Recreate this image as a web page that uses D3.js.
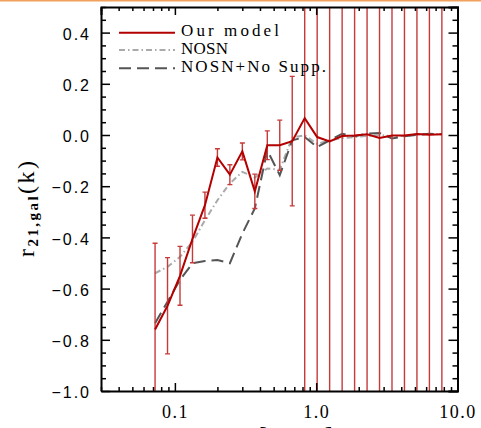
<!DOCTYPE html>
<html>
<head>
<meta charset="utf-8">
<script src="https://cdn.jsdelivr.net/npm/d3@7"></script>
<style>
  body { margin: 0; background: #fff; }
  svg { display: block; }
</style>
</head>
<body>
<svg id="chart"></svg>
<script>
// k values (h/Mpc) of the bins
const kValues = [0.0724, 0.0887, 0.1087, 0.1332, 0.1632, 0.2000, 0.2450, 0.3002,
  0.3679, 0.4508, 0.5523, 0.6768, 0.8293, 1.016, 1.245, 1.526, 1.870, 2.291,
  2.807, 3.439, 4.214, 5.164, 6.327, 7.752];
// Our model, with 1-sigma errors (the last ones are off the plot)
const ourModel = [-0.760, -0.667, -0.550, -0.406, -0.274, -0.088, -0.155, -0.064,
  -0.220, -0.040, -0.040, -0.024, 0.066, -0.008, -0.025, -0.004, -0.002, 0.003,
  -0.012, -0.002, -0.002, 0.004, 0.001, 0.003];
const ourErr = [0.337, 0.188, 0.115, 0.093, 0.051, 0.034, 0.039, 0.033, 0.067,
  0.056, 0.098, 0.253, 2.0, 2.0, 2.0, 2.0, 2.0, 2.0, 2.0, 2.0, 2.0, 2.0, 2.0, 2.0];
const nosn = [-0.540, -0.515, -0.476, -0.417, -0.333, -0.255, -0.189, -0.144,
  -0.166, -0.131, -0.135, -0.010, -0.001, -0.035, -0.021, -0.012, -0.008, -0.004,
  0.000, -0.005, -0.004, 0.002, 0.004, 0.003];
const nosnNoSupp = [-0.735, -0.651, -0.566, -0.501, -0.492, -0.488, -0.501, -0.385,
  -0.287, -0.060, -0.157, -0.021, -0.008, -0.047, -0.021, 0.005, -0.005, 0.005,
  0.008, -0.014, -0.005, 0.000, 0.005, 0.003];

const seriesNames = ["Our model", "NOSN", "NOSN+No Supp."];
const yTicks = [-1.0, -0.8, -0.6, -0.4, -0.2, 0.0, 0.2, 0.4];
const xTicks = [0.1, 1, 10];

const W = 481, H = 428;
const margin = {left: 101, top: 7, right: 23.5, bottom: 37};
const plotW = W - margin.left - margin.right;
const plotH = H - margin.top - margin.bottom;

const svg = d3.select("#chart").attr("width", W).attr("height", H);

// orange strip at the very top
svg.append("rect")
  .attr("x", 0).attr("y", 0).attr("width", W).attr("height", 1.5)
  .attr("fill", "#f2a05a");

const x = d3.scaleLog().domain([0.03, 10]).range([0, plotW]);
const y = d3.scaleLinear().domain([-1.0, 0.5]).range([plotH, 0]);

const g = svg.append("g").attr("transform", `translate(${margin.left},${margin.top})`);

g.append("clipPath").attr("id", "plotClip")
  .append("rect").attr("width", plotW).attr("height", plotH);

// minor tick positions
const yMinor = d3.range(-1.0, 0.5001, 0.05).filter(v => !yTicks.some(t => Math.abs(t - v) < 1e-6));
const xMinor = [];
[0.01, 0.1, 1].forEach(dec => {
  for (let m = 2; m <= 9; m++) {
    const v = dec * m;
    if (v >= 0.03 && v <= 10) xMinor.push(v);
  }
});

const fmt = d3.format(".1f");

// ---- data layers ----
const data = kValues.map((k, i) => ({k, our: ourModel[i], err: ourErr[i], nosn: nosn[i], supp: nosnNoSupp[i]}));
const layer = g.append("g").attr("clip-path", "url(#plotClip)");

const lineOf = key => d3.line().x(d => x(d.k)).y(d => y(d[key]));

layer.append("path").datum(data)
  .attr("d", lineOf("nosn"))
  .attr("fill", "none").attr("stroke", "#aaaaaa").attr("stroke-width", 2)
  .attr("stroke-dasharray", "6,3,1.5,3");

layer.append("path").datum(data)
  .attr("d", lineOf("supp"))
  .attr("fill", "none").attr("stroke", "#555555").attr("stroke-width", 2)
  .attr("stroke-dasharray", "12,6");

// error bars
const eb = layer.append("g").attr("stroke", "#c63a3a").attr("stroke-width", 1.4);
data.forEach(d => {
  const cx = x(d.k), y0 = y(d.our - d.err), y1 = y(d.our + d.err);
  eb.append("line").attr("x1", cx).attr("x2", cx).attr("y1", y0).attr("y2", y1);
  eb.append("line").attr("x1", cx - 2.5).attr("x2", cx + 2.5).attr("y1", y0).attr("y2", y0);
  eb.append("line").attr("x1", cx - 2.5).attr("x2", cx + 2.5).attr("y1", y1).attr("y2", y1);
});

layer.append("path").datum(data)
  .attr("d", lineOf("our"))
  .attr("fill", "none").attr("stroke", "#b30000").attr("stroke-width", 2);

// ---- axes ----
function styleAxis(sel) {
  sel.select(".domain").attr("stroke", "#000").attr("stroke-width", 2);
  sel.selectAll(".tick line").attr("stroke", "#000").attr("stroke-width", 1.5);
}

// left
g.append("g")
  .call(d3.axisLeft(y).tickValues(yTicks).tickSizeInner(-9).tickSizeOuter(0).tickPadding(10).tickFormat(fmt))
  .call(styleAxis)
  .call(a => a.selectAll("text")
    .attr("font-family", "Liberation Sans, Arial, sans-serif")
    .attr("font-size", 16).attr("fill", "#000").attr("letter-spacing", 2).attr("dy", "0.42em"));
g.append("g")
  .call(d3.axisLeft(y).tickValues(yMinor).tickSize(-5).tickFormat(""))
  .call(styleAxis).call(a => a.select(".domain").remove());

// right
g.append("g").attr("transform", `translate(${plotW},0)`)
  .call(d3.axisRight(y).tickValues(yTicks).tickSize(-9).tickFormat(""))
  .call(styleAxis);
g.append("g").attr("transform", `translate(${plotW},0)`)
  .call(d3.axisRight(y).tickValues(yMinor).tickSize(-5).tickFormat(""))
  .call(styleAxis).call(a => a.select(".domain").remove());

// bottom
g.append("g").attr("transform", `translate(0,${plotH})`)
  .call(d3.axisBottom(x).tickValues(xTicks).tickSizeInner(-8).tickSizeOuter(0).tickPadding(14).tickFormat(fmt))
  .call(styleAxis)
  .call(a => a.selectAll("text")
    .attr("font-family", "Liberation Serif, Times New Roman, serif")
    .attr("font-size", 18).attr("fill", "#000").attr("letter-spacing", 1.5));
g.append("g").attr("transform", `translate(0,${plotH})`)
  .call(d3.axisBottom(x).tickValues(xMinor).tickSize(-4).tickFormat(""))
  .call(styleAxis).call(a => a.select(".domain").remove());

// top
g.append("g")
  .call(d3.axisTop(x).tickValues(xTicks).tickSize(-8).tickFormat(""))
  .call(styleAxis);
g.append("g")
  .call(d3.axisTop(x).tickValues(xMinor).tickSize(-4).tickFormat(""))
  .call(styleAxis).call(a => a.select(".domain").remove());

// ---- legend ----
const legendStyles = [
  {stroke: "#b30000", dash: null},
  {stroke: "#aaaaaa", dash: "6,3,1.5,3"},
  {stroke: "#555555", dash: "12,6"}
];
const legendRows = [32.7, 50, 68.3];
const legendLen = [98, 47, 145];
const legend = svg.append("g");
seriesNames.forEach((name, i) => {
  const yy = legendRows[i];
  legend.append("line")
    .attr("x1", 119).attr("x2", 175).attr("y1", yy).attr("y2", yy)
    .attr("stroke", legendStyles[i].stroke).attr("stroke-width", 2)
    .attr("stroke-dasharray", legendStyles[i].dash);
  legend.append("text")
    .attr("x", 181).attr("y", yy + 3.6)
    .attr("font-family", "Liberation Serif, Times New Roman, serif")
    .attr("font-size", 17)
    .attr("textLength", legendLen[i]).attr("lengthAdjust", "spacing")
    .text(name);
});

// ---- axis titles ----
const yTitle = svg.append("text")
  .attr("transform", "translate(34,209) rotate(-90)")
  .attr("text-anchor", "middle")
  .attr("font-family", "Liberation Serif, Times New Roman, serif")
  .attr("font-size", 24)
  .attr("textLength", 96).attr("lengthAdjust", "spacing");
yTitle.append("tspan").text("r");
yTitle.append("tspan").attr("font-size", 15).attr("font-weight", "bold").attr("dy", 4).text("21,gal");
yTitle.append("tspan").attr("dy", -4).text("(k)");

// x title, mostly below the window
const xTitle = svg.append("text")
  .attr("x", 289).attr("y", 443)
  .attr("text-anchor", "middle")
  .attr("font-family", "Liberation Serif, Times New Roman, serif")
  .attr("font-size", 18);
xTitle.append("tspan").text("k ");
xTitle.append("tspan").attr("font-size", 24).text("[");
xTitle.append("tspan").text("h Mpc");
xTitle.append("tspan").attr("font-size", 11).attr("dy", -5).text("−1");
xTitle.append("tspan").attr("font-size", 24).attr("dy", 5).text("]");
</script>
</body>
</html>
